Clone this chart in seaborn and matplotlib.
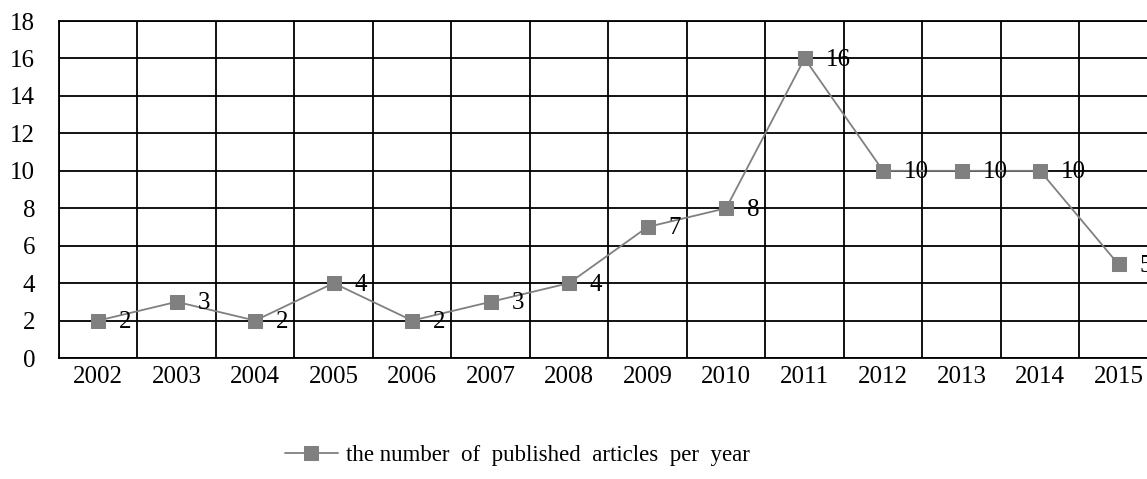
import pandas as pd
import seaborn as sns
import matplotlib.pyplot as plt
import numpy as np

# Data
years = ["2002", "2003", "2004", "2005", "2006", "2007", "2008",
         "2009", "2010", "2011", "2012", "2013", "2014", "2015"]
articles = [2, 3, 2, 4, 2, 3, 4, 7, 8, 16, 10, 10, 10, 5]
series_name = "the number  of  published  articles  per  year"

df = pd.DataFrame({"year": years, "count": articles})

sns.set_style("white")
plt.rcParams["font.family"] = ["Liberation Serif", "DejaVu Serif"]
plt.rcParams["text.color"] = "black"
plt.rcParams["xtick.color"] = "black"
plt.rcParams["ytick.color"] = "black"

fig = plt.figure(figsize=(11.47, 4.79), dpi=100)
ax = fig.add_axes([0.0514, 0.2526, 0.958, 0.7035])

sns.lineplot(data=df, x="year", y="count", ax=ax, color="#808080",
             linewidth=1.3, marker="s", markersize=10,
             markeredgecolor="#808080", markerfacecolor="#808080",
             label=series_name, sort=False, zorder=3)

# value labels to the right of each point (the last one runs off the edge, as in the original)
for i, v in enumerate(articles):
    ax.annotate(str(v), (i, v), xytext=(15, -1), textcoords="offset points",
                va="center", ha="left", fontsize=18, color="black")

ax.set_xlim(-0.5, len(years) - 0.5)
ax.set_ylim(0, 18)
ax.set_yticks(np.arange(0, 19, 2))
ax.set_xticks(np.arange(len(years)))
ax.set_xticklabels(years)
ax.set_xticks(np.arange(-0.5, len(years), 1), minor=True)

ax.grid(False)
ax.yaxis.grid(True, which="major", color="black", linewidth=1.3)
ax.xaxis.grid(True, which="minor", color="black", linewidth=1.3)
ax.tick_params(axis="both", which="both", length=0, labelsize=18)
ax.tick_params(axis="x", pad=6)
ax.tick_params(axis="y", pad=17)
for s in ax.spines.values():
    s.set_color("black")
    s.set_linewidth(1.3)
ax.set_xlabel("")
ax.set_ylabel("")

ax.legend(loc="center", bbox_to_anchor=(0.417, -0.29), frameon=False,
          fontsize=16.5, handlelength=2.3, handletextpad=0.35)

fig.savefig("out.png", dpi=100)
